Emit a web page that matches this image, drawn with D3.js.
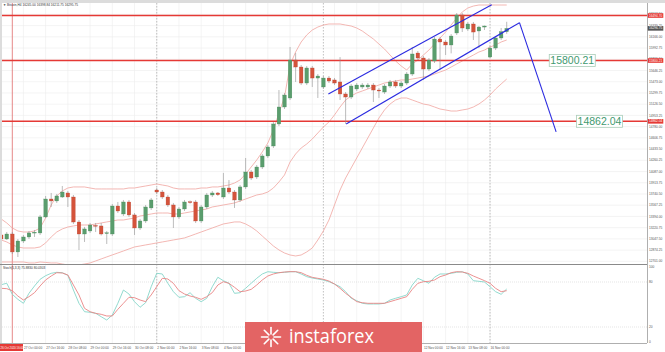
<!DOCTYPE html>
<html>
<head>
<meta charset="utf-8">
<script src="https://cdn.jsdelivr.net/npm/d3@7"></script>
<style>
  html, body { margin: 0; padding: 0; background: #fff; }
  svg { display: block; font-family: "Liberation Sans", Arial, sans-serif; }
</style>
</head>
<body>
<div id="chart"></div>
<script>
// Bitcoin H4 candles, 26 Oct 08:00 .. 16 Nov 12:00 (one entry per 4h bar).
const open = [13108,13046,13123,12846,13015,13077,13146,13139,13386,13663,13633,13694,13756,13694,13308,13123,13170,13255,13247,13135,13123,13555,13432,13617,13417,13216,13324,13525,13802,13771,13694,13571,13386,13509,13620,13617,13324,13540,13725,13756,13694,13833,13771,13648,13849,14080,14003,14157,14327,14481,14821,15083,15222,15808,15700,15453,15685,15530,15392,15530,15500,15469,15284,15237,15361,15392,15392,15422,15345,15314,15407,15469,15407,15453,15592,15916,15839,15669,15793,16132,16086,16040,16225,16503,16287,16364,16256,16317,15854,15993,16148,16245];
const high = [13139,13154,13154,13046,13108,13170,13185,13417,13710,13756,13741,13864,13787,13725,13339,13232,13293,13293,13293,13170,13586,13617,13648,13648,13447,13355,13571,13679,13833,13802,13725,13602,13540,13648,13640,13648,13571,13756,13787,13771,14065,13956,13802,13880,14296,14111,14188,14358,14497,14852,15345,15299,16009,15916,15731,15716,15716,15592,15561,15561,15530,15854,15314,15438,15453,15453,15453,15453,15376,15438,15500,15500,15484,15623,16009,15947,15870,15839,16163,16163,16117,16209,16533,16533,16395,16395,16333,16340,16024,16178,16302,16398];
const low = [13015,13031,12815,12768,12984,13046,13077,13108,13370,13540,13602,13679,13540,13278,12876,13000,13139,13154,13100,12969,13092,13447,13401,13386,13108,13185,13293,13494,13741,13663,13540,13216,13355,13478,13590,13293,13293,13509,13694,13710,13663,13741,13525,13617,13818,13956,13972,14126,14296,14450,14790,15052,15191,15469,15422,15422,15392,15222,15361,15453,15422,15191,14821,15206,15330,15361,15361,15160,15222,15284,15376,15376,15376,15422,15561,15808,15500,15638,15762,15654,15885,15911,16194,16240,16256,16117,15993,16271,15849,15962,16117,16212];
const close = [13046,13123,12846,13015,13077,13139,13150,13386,13663,13633,13710,13771,13694,13308,13123,13201,13262,13250,13123,13142,13555,13478,13617,13417,13216,13324,13540,13648,13771,13694,13571,13386,13509,13617,13615,13324,13540,13725,13756,13730,13833,13771,13648,13849,14080,13987,14157,14327,14466,14821,15083,15268,15808,15700,15453,15685,15530,15561,15530,15484,15453,15284,15237,15407,15422,15422,15422,15345,15330,15407,15469,15407,15453,15592,15901,15839,15669,15808,16132,16086,16040,16178,16503,16302,16364,16240,16317,16333,15993,16148,16245,16296];

// Bollinger bands
const bbUpper = [13355,13293,13216,13170,13154,13154,13170,13216,13370,13571,13710,13787,13833,13849,13849,13849,13833,13818,13818,13818,13818,13818,13818,13833,13833,13849,13864,13879,13895,13879,13864,13833,13818,13818,13818,13818,13833,13833,13849,13849,13864,13879,13910,13957,14049,14157,14265,14389,14527,14728,14990,15237,15731,15932,16086,16194,16271,16317,16348,16364,16364,16364,16348,16333,16302,16256,16194,16132,16055,15978,15885,15793,15716,15654,15747,15808,15885,15962,16055,16148,16240,16348,16456,16549,16611,16641,16657,16657,16657,16657,16657,16657];
const bbMiddle = [13031,13000,12954,12923,12907,12907,12907,12923,12985,13077,13154,13201,13231,13247,13262,13262,13262,13278,13293,13309,13324,13339,13339,13355,13370,13401,13416,13432,13447,13447,13447,13432,13432,13447,13463,13478,13494,13509,13540,13555,13571,13586,13602,13632,13663,13694,13725,13741,13771,13833,13926,14034,14234,14358,14450,14512,14589,14682,14774,14852,14960,15083,15191,15253,15299,15330,15361,15392,15422,15453,15469,15484,15500,15500,15515,15530,15546,15561,15592,15623,15654,15700,15747,15793,15839,15885,15932,15962,16009,16040,16086,16117];
const bbLower = [12691,12691,12691,12691,12691,12676,12676,12691,12684,12676,12676,12660,12645,12630,12645,12660,12676,12707,12738,12769,12800,12830,12861,12892,12923,12938,12954,12969,12985,13000,13015,13031,13046,13062,13092,13123,13154,13185,13216,13247,13278,13293,13309,13309,13278,13231,13170,13092,13015,12938,12877,12830,12799,12784,12799,12846,12907,13031,13170,13339,13571,13802,13987,14142,14296,14450,14605,14759,14913,15037,15129,15191,15222,15222,15191,15160,15129,15114,15083,15052,15037,15021,15021,15037,15052,15083,15129,15191,15268,15361,15438,15515];

// Stochastic(5,3,3)
const stochMain = [76.4,78.3,63.6,56.9,51.6,64.9,74.7,83.6,88.4,91.6,92.9,92.4,88.9,69.3,51.6,40.4,39.6,38.3,33.7,29.3,36,51.6,69.3,64,53.7,46.3,52.4,73.7,91.6,90.7,78.3,67.1,59.6,60.4,65.7,58.3,53.7,58.3,73.7,86.3,81.7,78.3,64.9,65.7,71.6,78.3,84.9,90.7,93.7,92.9,92.4,92.9,93.7,93.7,90.7,87.1,85.3,84,82.7,80.4,77.3,73.7,67.1,58.3,55.1,51.6,50.7,50.7,50.7,51.6,56,58.3,60.4,62.7,76,84.9,81.7,78.3,86.3,90.7,90.7,91.6,92.9,93.7,90.7,81.7,80.9,80,73.7,67.1,63.6,70.7];
const stochSignal = [71.6,71.1,68.4,61.3,56,60.4,65.8,74.7,82.7,88,92.4,92,89.3,76,62.7,44.9,40.4,38.2,36.9,34.7,34.7,43.6,51.6,59.6,59.1,56,53.8,62.7,73.8,84.9,84,78.2,68.4,64,61.3,59.6,56.9,60.4,65.8,76,80.4,78.2,72.9,67.1,68,70.2,76,82.7,88,90.7,92.4,93.3,93.8,93.8,92.4,88.9,86.2,84.9,83.6,81.3,77.3,71.6,64.9,59.6,53.8,52.4,51.6,51.6,51.6,51.6,53.8,56,58.2,60.4,70.2,78.2,80.4,80.9,82.7,87.1,89.3,92.4,93.8,93.3,91.6,88,84.9,81.8,78.2,71.6,67.1,68.4];

// horizontal levels and drawn objects: [bar index, price]
const levels = [16494.70, 15800.21, 14862.04];
const calloutLevels = [15800.21, 14862.04];
const channelUpper = [[58.9, 15284], [88.3, 16660]];
const channelLower = [[62.1, 14821], [93.3, 16384]];
const forecast = [[93.3, 16384], [99.9, 14700]];

const priceTicks = ["16512.50","16339.25","16166.00","15992.75","15819.50","15646.25","15473.00","15299.75","15126.50","14953.25","14780.00","14606.75","14433.50","14260.25","14087.00","13913.75","13740.50","13567.25","13394.00","13220.75","13047.50","12874.25","12701.00"];
// one label every 4 bars from bar 0; the first sits under the crosshair date box
const timeLabels = ["26 Oct 08:00","27 Oct 00:00","27 Oct 16:00","28 Oct 08:00","29 Oct 00:00","29 Oct 16:00","30 Oct 08:00","2 Nov 00:00","2 Nov 16:00","3 Nov 08:00","4 Nov 00:00","4 Nov 16:00","5 Nov 08:00","6 Nov 00:00","6 Nov 16:00","9 Nov 08:00","10 Nov 00:00","10 Nov 16:00","11 Nov 08:00","12 Nov 00:00","12 Nov 16:00","13 Nov 08:00","16 Nov 00:00"];
const weekStarts = [28, 58, 88];
const stochTicks = [100, 80, 20, 0];

const W = 665, H = 352;
const L = 2, R = 647, T = 3, MB = 264, IT = 265, IB = 343;
const GREEN = "#5a9d6d", RED = "#d4533b", LEVEL = "#e53935";
const LOGO = { x: 245, y: 322, w: 177, h: 30 };
const DATEBOX_W = 23;

const x = d3.scaleLinear([0, 116], [1.2, 1.2 + 116 * 5.555]);
const y = d3.scaleLinear([12660, 16688], [MB, T]);
const ys = d3.scaleLinear([0, 100], [342, 267]);

const svg = d3.select("#chart").append("svg").attr("width", W).attr("height", H);
const defs = svg.append("defs");
defs.append("clipPath").attr("id", "clipMain").append("rect")
  .attr("x", L).attr("y", T).attr("width", R - L).attr("height", MB - T);
defs.append("clipPath").attr("id", "clipInd").append("rect")
  .attr("x", L).attr("y", IT).attr("width", R - L).attr("height", IB - IT);

svg.append("rect").attr("width", W).attr("height", H).attr("fill", "#fff");
svg.append("rect").attr("width", W).attr("height", T).attr("fill", "#dcdcdc");
svg.append("rect").attr("width", L).attr("height", IB).attr("fill", "#dcdcdc");

// grid
const grid = svg.append("g").attr("stroke", "#ececec").attr("stroke-width", 0.6);
timeLabels.forEach((_, k) => {
  const gx = x(k * 4);
  if (gx > L) grid.append("line").attr("x1", gx).attr("x2", gx).attr("y1", T).attr("y2", IB);
});
priceTicks.forEach((t) => {
  grid.append("line").attr("x1", L).attr("x2", R).attr("y1", y(+t)).attr("y2", y(+t));
});
[80, 20].forEach((v) => {
  grid.append("line").attr("x1", L).attr("x2", R).attr("y1", ys(v)).attr("y2", ys(v))
    .attr("stroke", "#d4d4d4").attr("stroke-dasharray", "1,1");
});

// week separators
svg.append("g").selectAll("line").data(weekStarts).join("line")
  .attr("x1", (d) => x(d)).attr("x2", (d) => x(d)).attr("y1", T).attr("y2", IB)
  .attr("stroke", "#a8a8a8").attr("stroke-width", 0.7).attr("stroke-dasharray", "1.5,1.5");

// crosshair
svg.append("line").attr("x1", x(2)).attr("x2", x(2)).attr("y1", T).attr("y2", IB)
  .attr("stroke", "#e06a6a").attr("stroke-width", 0.8);

const main = svg.append("g").attr("clip-path", "url(#clipMain)");

// bands
const bandLine = d3.line().x((d, i) => x(i)).y((d) => y(d));
[bbUpper, bbMiddle, bbLower].forEach((b) => {
  main.append("path").datum(b).attr("d", bandLine)
    .attr("fill", "none").attr("stroke", "#f0a4a0").attr("stroke-width", 0.8);
});

// levels
main.selectAll(".lvl").data(levels).join("line").attr("class", "lvl")
  .attr("x1", L).attr("x2", R).attr("y1", (d) => y(d)).attr("y2", (d) => y(d))
  .attr("stroke", LEVEL).attr("stroke-width", 1.4);

// candles
const bars = main.append("g").selectAll("g").data(open).join("g");
bars.append("line")
  .attr("x1", (d, i) => x(i)).attr("x2", (d, i) => x(i))
  .attr("y1", (d, i) => y(high[i])).attr("y2", (d, i) => y(low[i]))
  .attr("stroke", "#8f8f8f").attr("stroke-width", 0.6);
bars.append("rect")
  .attr("x", (d, i) => x(i) - 1.8).attr("width", 3.6)
  .attr("y", (d, i) => y(Math.max(open[i], close[i])))
  .attr("height", (d, i) => Math.max(0.8, Math.abs(y(open[i]) - y(close[i]))))
  .attr("fill", (d, i) => close[i] >= open[i] ? GREEN : RED)
  .attr("stroke", (d, i) => close[i] >= open[i] ? "#4a8a5c" : "#b84532")
  .attr("stroke-width", 0.3);

// channel and forecast
const seg = d3.line().x((d) => x(d[0])).y((d) => y(d[1]));
[channelUpper, channelLower, forecast].forEach((s) => {
  main.append("path").datum(s).attr("d", seg)
    .attr("fill", "none").attr("stroke", "#2b2be0").attr("stroke-width", 1.1);
});

// callouts on the levels
const calloutAt = [102.8, 107.7];
calloutLevels.forEach((v, k) => {
  const cx = x(calloutAt[k]), cy = y(v);
  svg.append("rect").attr("x", cx - 23).attr("y", cy - 6).attr("width", 46).attr("height", 12)
    .attr("fill", "#fff").attr("stroke", "#a9cdb8").attr("stroke-width", 0.8);
  svg.append("text").attr("x", cx).attr("y", cy + 3.8).attr("text-anchor", "middle")
    .attr("font-size", 10.5).attr("fill", "#3f9a70").text(v.toFixed(2));
});

// panel frame
svg.append("line").attr("x1", 0).attr("x2", R).attr("y1", MB + 0.5).attr("y2", MB + 0.5)
  .attr("stroke", "#8a8a8a").attr("stroke-width", 1.2);
svg.append("line").attr("x1", R + 0.5).attr("x2", R + 0.5).attr("y1", T).attr("y2", IB)
  .attr("stroke", "#9a9a9a").attr("stroke-width", 0.8);
svg.append("line").attr("x1", 0).attr("x2", R).attr("y1", IB + 0.5).attr("y2", IB + 0.5)
  .attr("stroke", "#9a9a9a").attr("stroke-width", 0.8);

// price axis
const axisText = svg.append("g").attr("font-size", 3.2).attr("fill", "#555");
priceTicks.forEach((t) => {
  axisText.append("text").attr("x", R + 2).attr("y", y(+t) + 1.1).text(t);
});
function axisBox(v, fill) {
  svg.append("rect").attr("x", R + 0.8).attr("y", y(v) - 2.3).attr("width", 15.5).attr("height", 4.6)
    .attr("fill", fill);
  svg.append("text").attr("x", R + 2).attr("y", y(v) + 1.1).attr("font-size", 3.2)
    .attr("fill", "#fff").text(v.toFixed(2));
}
levels.forEach((v) => axisBox(v, LEVEL));
axisBox(close[close.length - 1] + 0.75, "#555");

// stochastic panel
const ind = svg.append("g").attr("clip-path", "url(#clipInd)");
const sLine = d3.line().x((d, i) => x(i)).y((d) => ys(d));
ind.append("path").datum(stochMain).attr("d", sLine)
  .attr("fill", "none").attr("stroke", "#86d6c9").attr("stroke-width", 0.9);
ind.append("path").datum(stochSignal).attr("d", sLine)
  .attr("fill", "none").attr("stroke", "#e98585").attr("stroke-width", 0.9);
stochTicks.forEach((v) => {
  axisText.append("text").attr("x", R + 2).attr("y", ys(v) + 1.1).text(v);
});

// time axis: labels hidden by the date box or the watermark are not drawn
timeLabels.forEach((t, k) => {
  const tx = x(k * 4) + 0.5;
  if (tx < DATEBOX_W) return;
  if (tx + 16 > LOGO.x && tx < LOGO.x + LOGO.w) return;
  axisText.append("text").attr("x", tx).attr("y", 349.2).text(t);
});
svg.append("rect").attr("x", 0).attr("y", IB + 1).attr("width", DATEBOX_W).attr("height", 7)
  .attr("fill", "#e53935");
svg.append("text").attr("x", 0.6).attr("y", 348.8).attr("font-size", 2.8).attr("fill", "#fff")
  .text("26 Oct 2020 16:00");

// titles
svg.append("text").attr("x", 3).attr("y", 6).attr("font-size", 3.2).attr("fill", "#333")
  .text("▼ Bitcoin,H4  16245.00 16398.84 16211.75 16295.75");
svg.append("text").attr("x", 3).attr("y", 268.8).attr("font-size", 3.2).attr("fill", "#333")
  .text("Stoch(5,3,3) 75.8830 80.0303");

// watermark logo
const logo = svg.append("g");
logo.append("rect").attr("x", LOGO.x).attr("y", LOGO.y).attr("width", LOGO.w).attr("height", LOGO.h)
  .attr("fill", "#e36464");
const ic = { x: 271, y: 337 };
d3.range(8).forEach((k) => {
  const a = (k / 8) * Math.PI * 2;
  logo.append("line")
    .attr("x1", ic.x + Math.cos(a) * 3).attr("y1", ic.y + Math.sin(a) * 3)
    .attr("x2", ic.x + Math.cos(a) * 9.5).attr("y2", ic.y + Math.sin(a) * 9.5)
    .attr("stroke", "#fff").attr("stroke-width", 1.6).attr("stroke-linecap", "round");
});
logo.append("text").attr("x", 289).attr("y", 343).attr("font-family", "Open Sans, sans-serif")
  .attr("font-size", 20).attr("fill", "#fff")
  .attr("textLength", 85).attr("lengthAdjust", "spacingAndGlyphs").text("instaforex");
</script>
</body>
</html>
